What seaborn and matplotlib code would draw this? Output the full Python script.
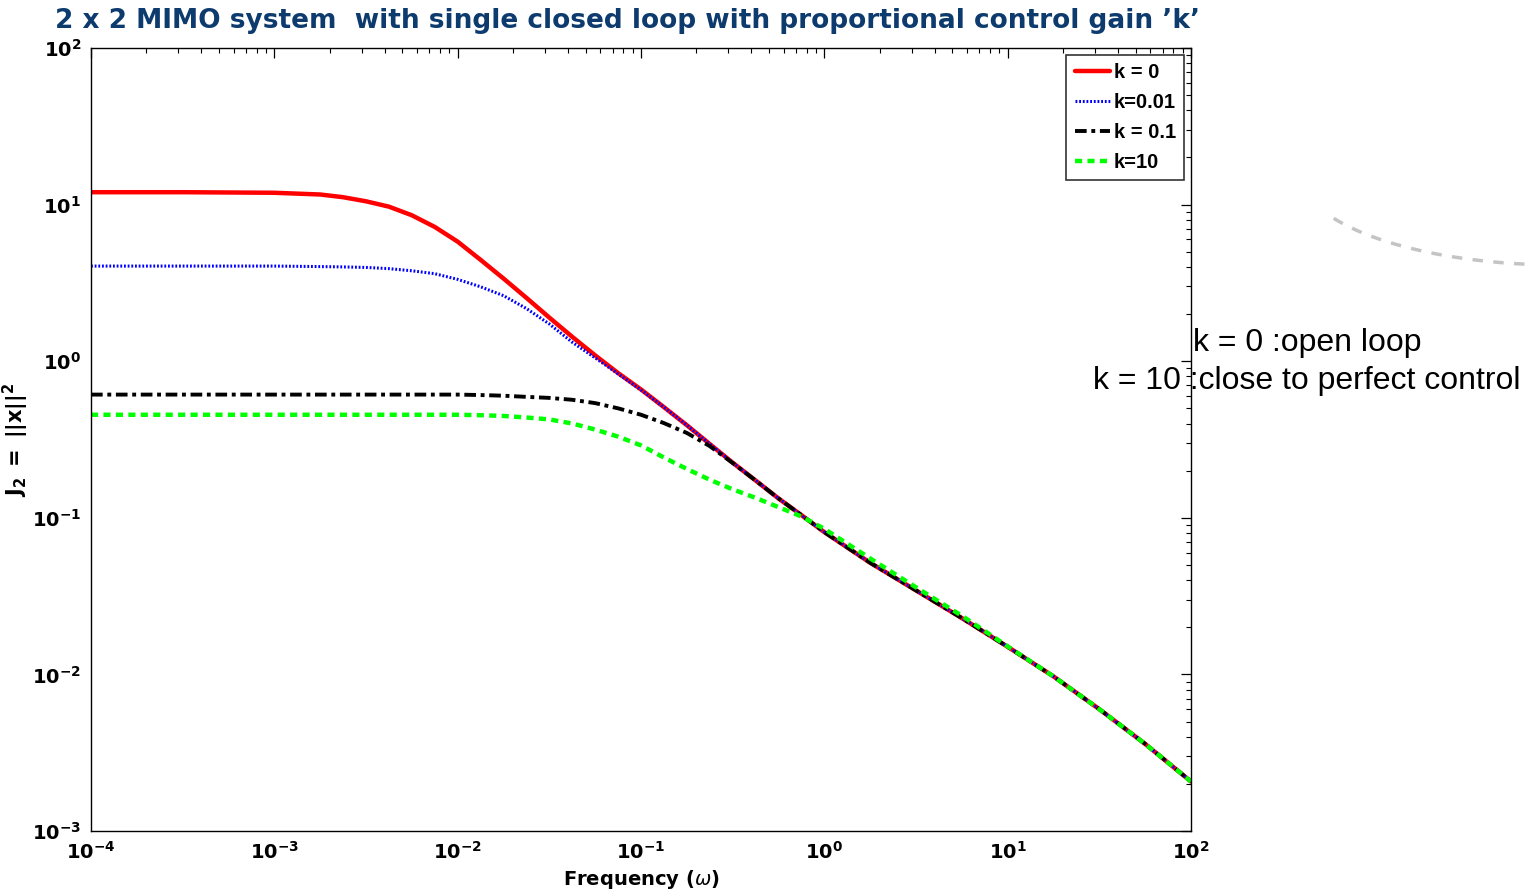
import numpy as np
import pandas as pd
import matplotlib
matplotlib.use("Agg")
import matplotlib.pyplot as plt
from matplotlib.patches import Arc
import seaborn as sns

# ---------------- data ----------------
freq = [1e-4, 3.16e-4, 1e-3, 1.78e-3, 2.37e-3, 3.16e-3, 4.22e-3, 5.62e-3, 7.50e-3, 1e-2,
        1.33e-2, 1.78e-2, 2.37e-2, 3.16e-2, 4.22e-2, 5.62e-2, 7.50e-2, 0.1, 0.133, 0.178,
        0.237, 0.316, 0.422, 0.562, 0.750, 1.0, 1.78, 3.16, 5.62, 10.0, 17.8, 31.6,
        56.2, 100.0]

j_k0 = [12.0, 12.0, 11.9, 11.6, 11.15, 10.5, 9.7, 8.55, 7.2, 5.8,
        4.45, 3.37, 2.54, 1.90, 1.43, 1.09, 0.84, 0.66, 0.51, 0.39,
        0.296, 0.225, 0.173, 0.133, 0.104, 0.081, 0.0516, 0.0344, 0.0229, 0.0150, 0.0097, 0.0060,
        0.0036, 0.00207]
j_k001 = [4.05, 4.05, 4.05, 4.02, 4.0, 3.97, 3.9, 3.78, 3.62, 3.33,
          2.99, 2.62, 2.17, 1.73, 1.32, 1.05, 0.83, 0.655, 0.51, 0.39,
          0.296, 0.225, 0.173, 0.133, 0.104, 0.081, 0.0516, 0.0344, 0.0229, 0.0150, 0.0097, 0.0060,
          0.0036, 0.00207]
j_k01 = [0.612, 0.612, 0.612, 0.612, 0.612, 0.612, 0.612, 0.612, 0.612, 0.612,
         0.608, 0.602, 0.592, 0.583, 0.567, 0.54, 0.50, 0.455, 0.403, 0.348,
         0.287, 0.224, 0.173, 0.133, 0.104, 0.081, 0.0516, 0.0344, 0.0229, 0.0150, 0.0097, 0.0060,
         0.0036, 0.00207]
j_k10 = [0.455, 0.455, 0.455, 0.455, 0.455, 0.455, 0.455, 0.455, 0.455, 0.455,
         0.452, 0.447, 0.437, 0.425, 0.40, 0.366, 0.33, 0.29, 0.243, 0.205,
         0.175, 0.152, 0.134, 0.117, 0.102, 0.085, 0.055, 0.036, 0.0237, 0.0151, 0.0097, 0.0060,
         0.0036, 0.00207]

series_labels = ["k = 0", "k=0.01", "k = 0.1", "k=10"]
series_values = [j_k0, j_k001, j_k01, j_k10]

x_ticks = [1e-4, 1e-3, 1e-2, 1e-1, 1e0, 1e1, 1e2]
x_tick_labels = [r"$\mathbf{10^{-4}}$", r"$\mathbf{10^{-3}}$", r"$\mathbf{10^{-2}}$",
                 r"$\mathbf{10^{-1}}$", r"$\mathbf{10^{0}}$", r"$\mathbf{10^{1}}$",
                 r"$\mathbf{10^{2}}$"]
y_ticks = [1e-3, 1e-2, 1e-1, 1e0, 1e1, 1e2]
y_tick_labels = [r"$\mathbf{10^{-3}}$", r"$\mathbf{10^{-2}}$", r"$\mathbf{10^{-1}}$",
                 r"$\mathbf{10^{0}}$", r"$\mathbf{10^{1}}$", r"$\mathbf{10^{2}}$"]

title_text = "2 x 2 MIMO system  with single closed loop with proportional control gain \u2019k\u2019"
note_1 = "k = 0 :open loop"
note_2 = "k = 10 :close to perfect control"

# ---------------- styling ----------------
sns.set_theme(style="white")
plt.rcParams["font.family"] = ["DejaVu Sans"]
plt.rcParams.update({"text.color": "black", "axes.labelcolor": "black",
                     "xtick.color": "black", "ytick.color": "black"})

colors = ["#ff0000", "#0000ff", "#000000", "#00ff00"]
styles = ["-", (0, (0.6, 0.6)), (0, (3.0, 1.2, 1.0, 1.2)), (0, (1.6, 1.2))]
widths = [3.2, 2.2, 2.8, 3.2]

fig = plt.figure(figsize=(15.33, 8.92), dpi=100)
ax = fig.add_axes([91 / 1533, 1 - 831 / 892, 1100 / 1533, 783 / 892])

for lab, vals, c, ls, lw in zip(series_labels, series_values, colors, styles, widths):
    d = pd.DataFrame({"freq": freq, "J": vals})
    sns.lineplot(data=d, x="freq", y="J", ax=ax, color=c, linestyle=ls,
                 linewidth=lw, label=lab)

ax.set_xscale("log")
ax.set_yscale("log")
ax.set_xlim(1e-4, 1e2)
ax.set_ylim(1e-3, 1e2)
ax.set_xticks(x_ticks)
ax.set_xticklabels(x_tick_labels, fontsize=14, color="black")
ax.set_yticks(y_ticks)
ax.set_yticklabels(y_tick_labels, fontsize=14, color="black")
ax.xaxis.set_minor_locator(matplotlib.ticker.LogLocator(base=10, subs=np.arange(2, 10)))
ax.yaxis.set_minor_locator(matplotlib.ticker.LogLocator(base=10, subs=np.arange(2, 10)))
ax.xaxis.set_minor_formatter(matplotlib.ticker.NullFormatter())
ax.yaxis.set_minor_formatter(matplotlib.ticker.NullFormatter())
ax.tick_params(which="both", direction="in", top=True, right=True, color="black")
ax.tick_params(which="major", length=7, width=0.9, pad=7)
ax.tick_params(which="minor", length=3.5, width=0.8)
for sp in ax.spines.values():
    sp.set_color("black")
    sp.set_linewidth(1.0)
ax.grid(False)

ax.set_xlabel(r"Frequency ($\omega$)", fontsize=14, fontweight="bold", labelpad=4,
              color="black")
ax.set_ylabel(r"$\mathbf{J_2\ =\ ||x||^2}$", fontsize=15, color="black")
ax.yaxis.set_label_coords(-0.055, 0.5)

leg = ax.legend(loc="upper right", frameon=True, fancybox=False,
                handlelength=1.75, handletextpad=0.2, borderpad=0.4,
                labelspacing=0.55, borderaxespad=0.35, labelcolor="black",
                prop={"family": ["Liberation Sans", "DejaVu Sans"], "weight": "bold", "size": 14.5})
leg.get_frame().set_edgecolor("black")
leg.get_frame().set_linewidth(1.2)

fig.text(55 / 1533, 1 - 21 / 892, title_text, fontsize=19, fontweight="bold",
         color="#0d3b6e", ha="left", va="center")

fig.text(1193 / 1533, 1 - 343 / 892, note_1, fontsize=23, ha="left", va="center",
         family=["Liberation Sans", "DejaVu Sans"], color="black")
fig.text(1093 / 1533, 1 - 381 / 892, note_2, fontsize=23, ha="left", va="center",
         family=["Liberation Sans", "DejaVu Sans"], color="black")

arc = Arc((1560 / 1533, 1 - 173 / 892), 520 / 1533, 184 / 892, theta1=199, theta2=270,
          transform=fig.transFigure, color="#c4c4c4", linewidth=2.5,
          linestyle=(0, (3, 3)), clip_on=False)
fig.add_artist(arc)

fig.savefig("out.png", dpi=100)
